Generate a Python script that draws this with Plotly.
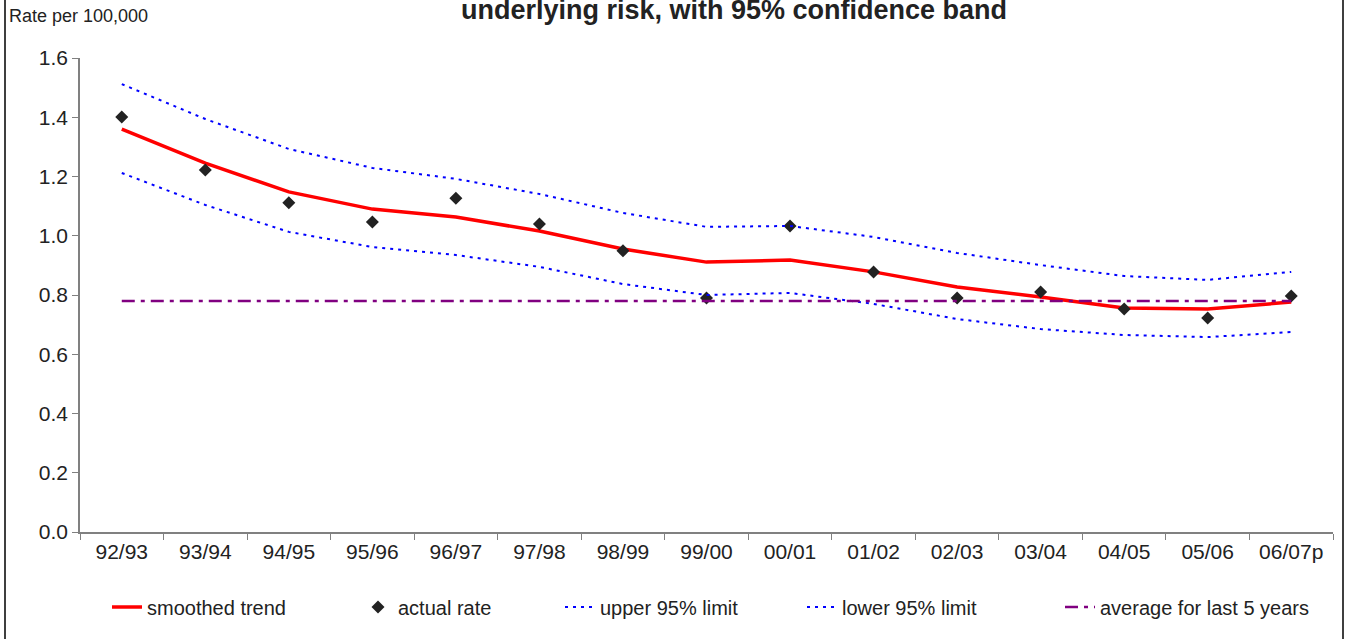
import plotly.graph_objects as go

years = ["92/93", "93/94", "94/95", "95/96", "96/97", "97/98", "98/99", "99/00",
         "00/01", "01/02", "02/03", "03/04", "04/05", "05/06", "06/07p"]
smoothed = [1.360, 1.245, 1.148, 1.090, 1.063, 1.016, 0.955, 0.911,
            0.918, 0.878, 0.827, 0.793, 0.756, 0.753, 0.776]
actual = [1.401, 1.222, 1.111, 1.046, 1.127, 1.040, 0.949, 0.790,
          1.033, 0.878, 0.790, 0.810, 0.753, 0.722, 0.797]
upper = [1.512, 1.394, 1.293, 1.229, 1.192, 1.141, 1.077, 1.030,
         1.033, 0.996, 0.942, 0.901, 0.864, 0.851, 0.878]
lower = [1.212, 1.104, 1.013, 0.962, 0.935, 0.895, 0.837, 0.800,
         0.807, 0.770, 0.719, 0.685, 0.665, 0.658, 0.675]
avg5 = [0.780] * len(years)

W, H = 1347, 639
L, T = 80, 58
R = W - 1333
B = H - 532
pw = W - L - R
ph = H - T - B

def px_x(p):
    return (p - L) / pw

def px_y(p):
    return (H - B - p) / ph

FONT = "Liberation Sans, Arial, sans-serif"
TXT = "#222222"

fig = go.Figure()
fig.add_trace(go.Scatter(x=years, y=smoothed, mode="lines", name="smoothed trend",
                         line=dict(color="#FF0000", width=3.5), legend="legend"))
fig.add_trace(go.Scatter(x=years, y=actual, mode="markers", name="actual rate",
                         marker=dict(symbol="diamond", size=10, color="#222222"),
                         legend="legend2"))
fig.add_trace(go.Scatter(x=years, y=upper, mode="lines", name="upper 95% limit",
                         line=dict(color="#0000FF", width=2, dash="3px,5px"),
                         legend="legend3"))
fig.add_trace(go.Scatter(x=years, y=lower, mode="lines", name="lower 95% limit",
                         line=dict(color="#0000FF", width=2, dash="3px,5px"),
                         legend="legend4"))
fig.add_trace(go.Scatter(x=years, y=avg5, mode="lines", name="average for last 5 years",
                         line=dict(color="#800080", width=2.5, dash="13px,6px,4px,6px"),
                         legend="legend5"))

leg_common = dict(orientation="h", yanchor="middle", y=px_y(607), xanchor="left",
                  bgcolor="rgba(0,0,0,0)", borderwidth=0,
                  font=dict(family=FONT, size=20, color=TXT))
text_starts = [147, 398, 600, 842, 1100]
legs = {}
for i, ts in enumerate(text_starts):
    key = "legend" if i == 0 else f"legend{i+1}"
    legs[key] = dict(leg_common, x=px_x(ts - 40))

fig.update_layout(
    width=W, height=H,
    margin=dict(l=L, r=R, t=T, b=B),
    paper_bgcolor="white", plot_bgcolor="white",
    font=dict(family=FONT, size=20, color=TXT),
    showlegend=True,
    **legs,
    xaxis=dict(type="category", range=[-0.5, len(years) - 0.5], tickson="boundaries",
               ticks="outside", ticklen=6,
               tickcolor="#808080", showline=True, linecolor="#808080", linewidth=1.5,
               showgrid=False, zeroline=False,
               tickfont=dict(family=FONT, size=21, color=TXT)),
    yaxis=dict(range=[0, 1.6], dtick=0.2, tickformat=".1f", ticks="outside", ticklen=6,
               tickcolor="#808080", showline=True, linecolor="#808080", linewidth=1.5,
               showgrid=False, zeroline=False,
               tickfont=dict(family=FONT, size=21, color=TXT)),
    annotations=[
        dict(text="<b>underlying risk, with 95% confidence band</b>", xref="paper", yref="paper",
             x=px_x(734), y=px_y(10), xanchor="center", yanchor="middle", showarrow=False,
             font=dict(family=FONT, size=27, color=TXT)),
        dict(text="Rate per 100,000", xref="paper", yref="paper",
             x=px_x(7), y=px_y(16), xanchor="left", yanchor="middle", showarrow=False,
             font=dict(family=FONT, size=18, color=TXT)),
    ],
    shapes=[
        dict(type="rect", xref="paper", yref="paper",
             x0=px_x(5), x1=px_x(1343), y0=px_y(660), y1=px_y(-20),
             line=dict(color="#000000", width=1.5), fillcolor="rgba(0,0,0,0)", layer="below"),
    ],
)

fig.write_html("out.html", config={"displayModeBar": False},
               post_script="document.body.style.margin='0';document.body.style.overflow='hidden';")
